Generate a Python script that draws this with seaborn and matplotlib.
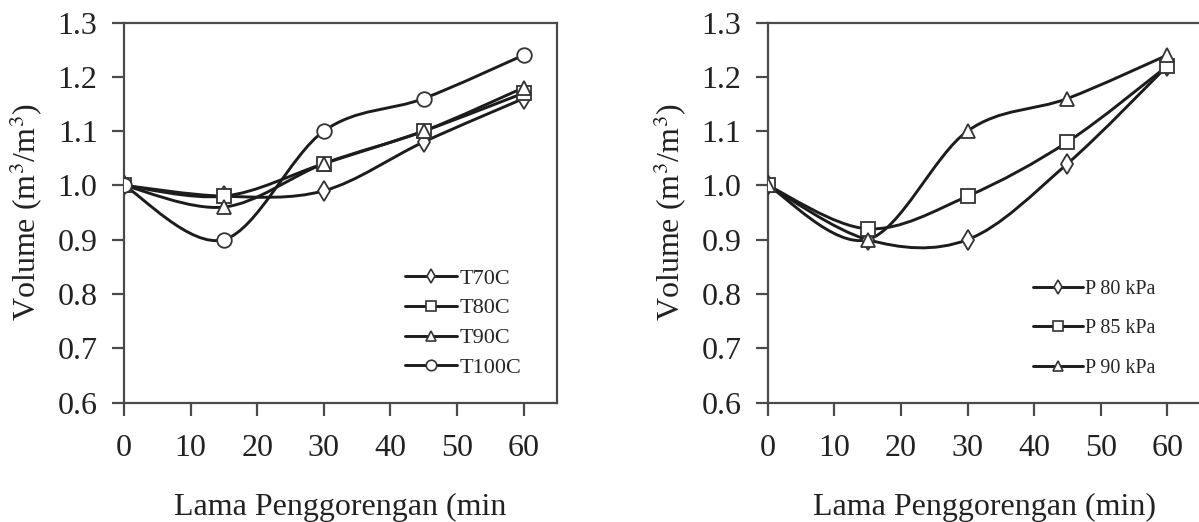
import numpy as np
import pandas as pd
import matplotlib
matplotlib.use("Agg")
import matplotlib.pyplot as plt
import seaborn as sns
from matplotlib.path import Path
from matplotlib.patches import PathPatch
from matplotlib.lines import Line2D

# ---- data ----
time_min = [0, 15, 30, 45, 60]

temp_labels = ["T70C", "T80C", "T90C", "T100C"]
t70 = [1.00, 0.98, 0.99, 1.08, 1.16]
t80 = [1.00, 0.98, 1.04, 1.10, 1.17]
t90 = [1.00, 0.96, 1.04, 1.10, 1.18]
t100 = [1.00, 0.90, 1.10, 1.16, 1.24]

press_labels = ["P 80 kPa", "P 85 kPa", "P 90 kPa"]
p80 = [1.00, 0.90, 0.90, 1.04, 1.22]
p85 = [1.00, 0.92, 0.98, 1.08, 1.22]
p90 = [1.00, 0.90, 1.10, 1.16, 1.24]

y_ticks = [0.6, 0.7, 0.8, 0.9, 1.0, 1.1, 1.2, 1.3]
x_ticks = [0, 10, 20, 30, 40, 50, 60]

sns.set_theme(style="ticks")
plt.rcParams["font.family"] = ["Liberation Serif", "DejaVu Serif"]
plt.rcParams["mathtext.fontset"] = "stix"

LINE = "#1c1c1c"
SPINE = "#4a4a4a"
TXT = "#222222"

fig = plt.figure(figsize=(11.99, 5.22), dpi=100)
axL = fig.add_axes([124 / 1199, 1 - 402.5 / 522, 433 / 1199, 380 / 522])
axR = fig.add_axes([767.7 / 1199, 1 - 402.5 / 522, 433 / 1199, 380 / 522])


def smooth_path(x, y):
    # Excel-style smoothed line drawn as cubic Bezier segments through the points
    pts = np.column_stack([x, y]).astype(float)
    n = len(pts)
    verts = [tuple(pts[0])]
    codes = [Path.MOVETO]
    for i in range(n - 1):
        p0 = pts[i - 1] if i > 0 else pts[i]
        p1 = pts[i]
        p2 = pts[i + 1]
        p3 = pts[i + 2] if i + 2 < n else pts[i + 1]
        c1 = p1 + (p2 - p0) / 6.0
        c2 = p2 - (p3 - p1) / 6.0
        verts += [tuple(c1), tuple(c2), tuple(p2)]
        codes += [Path.CURVE4] * 3
    return Path(verts, codes)


def draw_panel(ax, series, labels, markers, msizes):
    handles = []
    for ys, lab, m, ms in zip(series, labels, markers, msizes):
        ax.add_patch(PathPatch(smooth_path(time_min, ys), fill=False,
                               edgecolor=LINE, lw=2.1, zorder=2))
        df = pd.DataFrame({"t": time_min, "v": ys})
        sns.lineplot(data=df, x="t", y="v", ax=ax, linestyle="none",
                     marker=m, markersize=ms, markerfacecolor="white",
                     markeredgecolor="#333333", markeredgewidth=1.3,
                     color=LINE, zorder=3)
        handles.append(Line2D([], [], color=LINE, lw=2.1, marker=m,
                              markersize=ms * 0.72, markerfacecolor="white",
                              markeredgecolor="#333333", markeredgewidth=1.2,
                              label=lab))
    ax.set_xlim(0, 65)
    ax.set_ylim(0.6, 1.3)
    ax.set_xticks(x_ticks)
    ax.set_yticks(y_ticks)
    ax.set_yticklabels([f"{v:.1f}" for v in y_ticks])
    ax.tick_params(axis="both", direction="out", length=9, width=1.6,
                   color=SPINE, labelsize=23, labelcolor=TXT)
    ax.tick_params(axis="x", pad=14)
    ax.tick_params(axis="y", pad=10)
    for s in ax.spines.values():
        s.set_color(SPINE)
        s.set_linewidth(1.6)
        s.set_visible(True)
    ax.set_ylabel("Volume (m$^3$/m$^3$)", fontsize=23, color=TXT, labelpad=9)
    return handles


hL = draw_panel(axL, [t70, t80, t90, t100], temp_labels,
                ["d", "s", "^", "o"], [10, 10, 10, 10.5])
hR = draw_panel(axR, [p80, p85, p90], press_labels,
                ["d", "s", "^"], [10, 10.5, 10])

axL.set_xlabel("Lama Penggorengan (min", fontsize=23, color=TXT, labelpad=21)
axR.set_xlabel("Lama Penggorengan (min)", fontsize=23, color=TXT, labelpad=21)

axL.legend(handles=hL, loc="upper left", bbox_to_anchor=(405 / 1199, 1 - 268 / 522),
           bbox_transform=fig.transFigure, frameon=False, fontsize=16,
           handlelength=2.35, handletextpad=0.12, labelspacing=0.42,
           borderpad=0, borderaxespad=0)
axR.legend(handles=hR, loc="upper left", bbox_to_anchor=(1033 / 1199, 1 - 280 / 522),
           bbox_transform=fig.transFigure, frameon=False, fontsize=14.5,
           handlelength=2.5, handletextpad=0.1, labelspacing=1.0,
           borderpad=0, borderaxespad=0)

fig.savefig("out.png", dpi=100)
